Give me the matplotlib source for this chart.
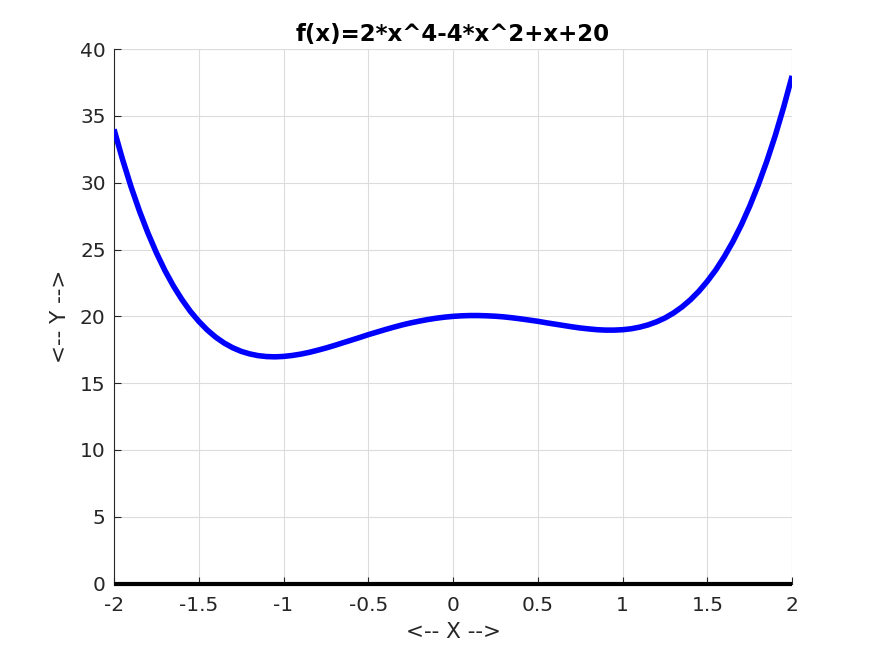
import numpy as np
import matplotlib
matplotlib.use('Agg')
import matplotlib.pyplot as plt

# f(x) = 2x^4 - 4x^2 + x + 20, values read at 0.05 steps
x_vals = [-2.00, -1.95, -1.90, -1.85, -1.80, -1.75, -1.70, -1.65, -1.60, -1.55,
          -1.50, -1.45, -1.40, -1.35, -1.30, -1.25, -1.20, -1.15, -1.10, -1.05,
          -1.00, -0.95, -0.90, -0.85, -0.80, -0.75, -0.70, -0.65, -0.60, -0.55,
          -0.50, -0.45, -0.40, -0.35, -0.30, -0.25, -0.20, -0.15, -0.10, -0.05,
          0.00, 0.05, 0.10, 0.15, 0.20, 0.25, 0.30, 0.35, 0.40, 0.45,
          0.50, 0.55, 0.60, 0.65, 0.70, 0.75, 0.80, 0.85, 0.90, 0.95,
          1.00, 1.05, 1.10, 1.15, 1.20, 1.25, 1.30, 1.35, 1.40, 1.45,
          1.50, 1.55, 1.60, 1.65, 1.70, 1.75, 1.80, 1.85, 1.90, 1.95, 2.00]
y_vals = [34.00, 31.76, 29.72, 27.89, 26.24, 24.76, 23.44, 22.28, 21.27, 20.38,
          19.63, 18.98, 18.44, 18.00, 17.65, 17.38, 17.19, 17.06, 16.99, 16.97,
          17.00, 17.07, 17.17, 17.30, 17.46, 17.63, 17.82, 18.02, 18.22, 18.42,
          18.63, 18.82, 19.01, 19.19, 19.36, 19.51, 19.64, 19.76, 19.86, 19.94,
          20.00, 20.04, 20.06, 20.06, 20.04, 20.01, 19.96, 19.89, 19.81, 19.72,
          19.63, 19.52, 19.42, 19.32, 19.22, 19.13, 19.06, 19.00, 18.97, 18.97,
          19.00, 19.07, 19.19, 19.36, 19.59, 19.88, 20.25, 20.70, 21.24, 21.88,
          22.63, 23.48, 24.47, 25.58, 26.84, 28.26, 29.84, 31.59, 33.52, 35.66, 38.00]
zero_line = [0.0] * len(x_vals)

x_ticks = [-2, -1.5, -1, -0.5, 0, 0.5, 1, 1.5, 2]
x_ticklabels = ['-2', '-1.5', '-1', '-0.5', '0', '0.5', '1', '1.5', '2']
y_ticks = [0, 5, 10, 15, 20, 25, 30, 35, 40]

plt.rcParams['font.family'] = ['DejaVu Sans']
fig = plt.figure(figsize=(8.75, 6.56), dpi=100)
ax = fig.add_axes([0.1303, 0.1105, 0.775, 0.8145])

ax.plot(x_vals, y_vals, color='#0000ff', linewidth=4, solid_capstyle='butt', zorder=3)
ax.plot(x_vals, zero_line, color='black', linewidth=3, solid_capstyle='butt',
        zorder=4, clip_on=False)

ax.set_xlim(-2, 2)
ax.set_ylim(0, 40)
ax.set_xticks(x_ticks)
ax.set_xticklabels(x_ticklabels)
ax.set_yticks(y_ticks)

ax.grid(True, color='#dcdcdc', linewidth=0.8)
ax.set_axisbelow(True)
ax.spines['top'].set_visible(False)
ax.spines['right'].set_visible(False)
ax.spines['left'].set_color('#262626')
ax.spines['bottom'].set_color('#262626')
ax.spines['left'].set_linewidth(0.8)
ax.spines['bottom'].set_linewidth(0.8)
# grid-only frame on top/right like the reference
ax.axhline(40, color='#dcdcdc', linewidth=0.8, zorder=0)
ax.axvline(2, color='#dcdcdc', linewidth=0.8, zorder=0)

ax.tick_params(direction='in', length=5, width=0.8, colors='#262626', labelsize=14.5)
ax.tick_params(axis='x', pad=9)
ax.tick_params(axis='y', pad=6)

ax.set_title('f(x)=2*x^4-4*x^2+x+20', fontsize=16.5, fontweight='bold', pad=6)
ax.set_xlabel('<-- X -->', fontsize=15.5, color='#262626', labelpad=5)
ax.set_ylabel('<-- Y -->', fontsize=15.5, color='#262626', labelpad=7)

fig.savefig('out.png', dpi=100)
